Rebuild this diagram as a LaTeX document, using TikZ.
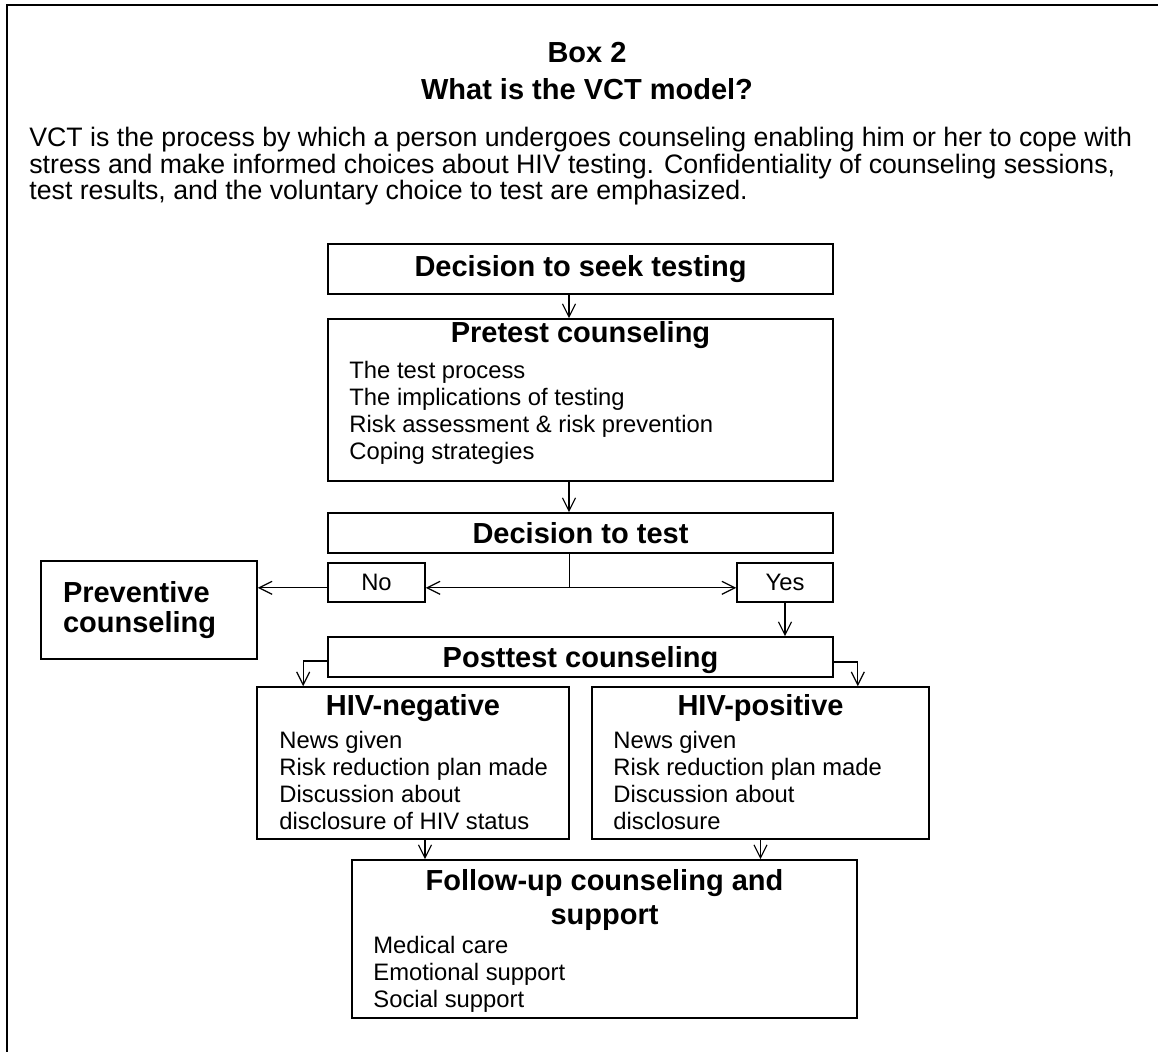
\documentclass[tikz,border=0pt]{standalone}
\usepackage{fontspec}
\setmainfont{Liberation Sans}
\usetikzlibrary{arrows.meta}
\newcommand{\introtext}{\fontsize{13.35}{13.25}\selectfont}
\newcommand{\boxhead}{\fontsize{14.5}{17}\selectfont\bfseries}
\newcommand{\boxitem}{\fontsize{11.9}{13.5}\selectfont}

\begin{document}
\begin{tikzpicture}[x=0.5pt, y=-0.5pt,
    box/.style={draw, line width=0.8pt, inner sep=0pt},
    arr/.style={-{Straight Barb[length=6.5pt,width=6.5pt]}, line width=0.6pt},
    lst/.style={anchor=west, align=left, inner sep=0pt, font=\boxitem},
    hd/.style={inner sep=0pt, font=\boxhead}]
    \useasboundingbox (0,0) rectangle (1158,1051);

    % Outer frame
    \draw[line width=1.2pt] (7,1080) -- (7,5) -- (1180,5);

    % Heading and intro text
    \node[hd] (boxno) at (587,53) {Box 2};
    \node[hd] (title) at (587,89) {What is the VCT model?};
    \node[anchor=west, align=left, inner sep=0pt, font=\introtext] (intro) at (29,166.5)
        {VCT is the process by which a person undergoes counseling enabling him or her to cope with\\
         stress and make informed choices about HIV testing. Confidentiality of counseling sessions,\\
         test results, and the voluntary choice to test are emphasized.};

    % Pretest part
    \node[box, minimum width=252.5pt, minimum height=25pt, font=\boxhead] (seek) at (580.5,269) {Decision to seek testing};
    \node[box, minimum width=252.5pt, minimum height=81pt] (pre) at (580.5,400) {};
    \node[hd] (pretitle) at (580.5,335) {Pretest counseling};
    \node[lst] (prelist) at (349,412.5) {The test process\\The implications of testing\\Risk assessment \& risk prevention\\Coping strategies};
    \node[box, minimum width=252.5pt, minimum height=20pt, font=\boxhead] (dtest) at (580.5,533) {Decision to test};

    % Choice
    \node[box, minimum width=48.5pt, minimum height=19.5pt, font=\boxitem] (no) at (376.5,582.5) {No};
    \node[box, minimum width=48pt, minimum height=19.5pt, font=\boxitem] (yes) at (785,582.5) {Yes};
    \node[box, minimum width=108pt, minimum height=49pt, text width=86pt, align=left,
          font={\fontsize{14.5}{15}\selectfont\bfseries}] (prev) at (149,610) {Preventive\\counseling};

    % Posttest part
    \node[box, minimum width=252.5pt, minimum height=20pt, text depth=0pt, font=\boxhead] (post) at (580.5,657) {Posttest counseling};
    \node[box, minimum width=156pt, minimum height=76pt] (neg) at (413,763) {};
    \node[hd] (negtitle) at (413,708) {HIV-negative};
    \node[lst] (neglist) at (279,780) {News given\\Risk reduction plan made\\Discussion about\\disclosure of HIV status};
    \node[box, minimum width=168.5pt, minimum height=76pt] (pos) at (760.5,763) {};
    \node[hd] (postitle) at (760.5,708) {HIV-positive};
    \node[lst] (poslist) at (613,780) {News given\\Risk reduction plan made\\Discussion about\\disclosure};

    % Follow-up
    \node[box, minimum width=252.5pt, minimum height=79pt] (follow) at (604.5,939) {};
    \node[hd, align=center] (followtitle) at (604.5,900) {Follow-up counseling and\\support};
    \node[lst] (followlist) at (373,974) {Medical care\\Emotional support\\Social support};

    % Connectors
    \draw[arr] ([xshift=-5.75pt]seek.south) -- ([xshift=-5.75pt]pre.north);
    \draw[arr] ([xshift=-5.75pt]pre.south) -- ([xshift=-5.75pt]dtest.north);
    \draw ([xshift=-5.75pt]dtest.south) -- ++(0,34) coordinate (split);
    \draw[arr] (split) -- (split -| no.east);
    \draw[arr] (split) -- (split -| yes.west);
    \draw[arr] (split -| no.west) -- (split -| prev.east);
    \draw[arr] (yes.south) -- (yes.south |- post.north);
    \draw[arr] ([yshift=-2pt]post.west) -| ([xshift=23.5pt]neg.north west);
    \draw[arr] ([yshift=-2.5pt]post.east) -| ([xshift=-36pt]pos.north east);
    \draw[arr] ([xshift=6pt]neg.south) -- ([xshift=6pt]neg.south |- follow.north);
    \draw[arr] (pos.south) -- (pos.south |- follow.north);
\end{tikzpicture}
\end{document}
